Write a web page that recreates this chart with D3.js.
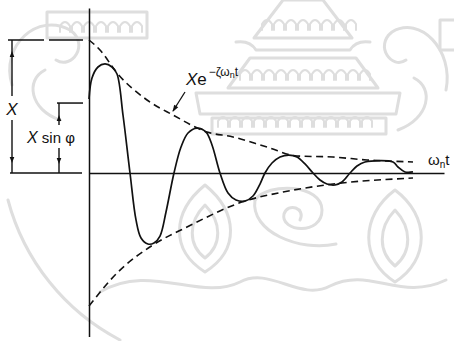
<!DOCTYPE html>
<html>
<head>
<meta charset="utf-8">
<script src="https://cdn.jsdelivr.net/npm/d3@7/dist/d3.min.js"></script>
<style>
  html, body { margin: 0; padding: 0; background: #fff; }
  svg { display: block; }
  text { font-family: "Liberation Sans", "DejaVu Sans", sans-serif; fill: #111; }
</style>
</head>
<body>
<svg id="chart" width="454" height="341"></svg>
<script>
// Damped free vibration: response x(t) and its decay envelopes ±X·e^(−ζωn t)
// time in ωn·t units, displacement as a fraction of X

const responseT = [0, 0.101, 0.304, 0.541, 0.777, 0.947, 1.149, 1.386,
  1.589, 1.758, 1.994, 2.197, 2.400, 2.603, 2.873,
  3.110, 3.347, 3.651, 3.955, 4.158, 4.428,
  4.699, 4.969, 5.273, 5.543, 5.780, 5.949,
  6.186, 6.457, 6.761, 7.031, 7.301, 7.572,
  7.809, 8.045, 8.316, 8.552, 8.823,
  9.059, 9.329, 10.276, 10.445, 10.682, 10.952];
const responseX = [0.556, 0.714, 0.797, 0.820, 0.797, 0.744, 0.436, 0,
  -0.353, -0.489, -0.534, -0.526, -0.474, -0.293, 0,
  0.195, 0.301, 0.338, 0.308, 0.211, 0,
  -0.150, -0.203, -0.211, -0.173, -0.083, 0,
  0.075, 0.120, 0.135, 0.120, 0.068, 0,
  -0.053, -0.083, -0.090, -0.068, 0,
  0.053, 0.083, 0.083, 0.045, 0.008, 0.008];

const upperT = [0, 0.372, 0.947, 1.961, 2.840, 3.989, 4.868, 6.017, 7.031, 8.248, 9.397, 10.952];
const upperX = [1.0, 0.925, 0.752, 0.549, 0.436, 0.308, 0.271, 0.195, 0.128, 0.120, 0.098, 0.083];

const lowerT = [0, 0.947, 2.163, 3.313, 5.273, 6.558, 8.248, 10.952];
const lowerX = [-1.0, -0.752, -0.541, -0.406, -0.211, -0.143, -0.083, -0.038];

const amplitude = 1.0;        // X
const initialOffset = 0.526;  // X sin φ
const tExtent = [0, 12];
const xExtent = [-1.23, 1.24];

const svg = d3.select("#chart");
const ink = "#111";

// faint emblem printed behind the figure
const wm = svg.append("g").attr("fill", "none").attr("stroke", "#dedede")
  .attr("stroke-width", 3).attr("stroke-linecap", "round").attr("stroke-linejoin", "round");
[
  // tiered roof
  "M283,0 L323,0 L352,38 L254,38 Z",
  "M236,42 Q250,40 256,50 L350,50 Q356,40 370,42",
  "M250,58 L356,58 L378,88 L228,88 Z",
  "M196,93 L400,93 L396,114 L200,114 Z",
  "M212,118 L386,118 L386,134 L212,134 Z",
  // swirl
  "M255,200 C268,182 322,184 322,210 C322,236 280,232 284,214 C288,202 306,208 300,220",
  "M255,200 C250,232 300,252 336,244",
  // teardrop ornaments
  "M205,185 C172,212 170,250 205,272 C240,250 238,212 205,185 Z",
  "M205,205 C188,222 188,245 205,258 C222,245 222,222 205,205 Z",
  "M395,190 C360,216 360,260 395,282 C430,260 430,216 395,190 Z",
  "M395,210 C378,228 378,252 395,266 C412,252 412,228 395,210 Z",
  // base wave
  "M100,292 C150,262 200,302 240,282 C270,266 300,302 330,286 C370,266 400,302 446,280",
  // side scrolls
  "M12,85 C0,45 38,12 70,30 C90,44 72,70 56,60",
  "M60,120 C30,110 25,80 45,70",
  "M446,90 C454,50 420,15 392,32 C374,46 392,70 406,60",
  "M398,130 C430,118 434,88 414,78",
  // seal ring
  "M8,200 A222,222 0 0,0 120,340"
].forEach(d => wm.append("path").attr("d", d));
// small arch rows on the roof tiers
[[262, 30, 8], [240, 80, 11], [218, 127, 13], [60, 32, 7]].forEach(([x0, yb, n]) => {
  for (let i = 0; i < n; i++) {
    const cx = x0 + i * 12;
    wm.append("path").attr("stroke-width", 2)
      .attr("d", `M${cx},${yb} L${cx},${yb - 6} Q${cx + 5},${yb - 14} ${cx + 10},${yb - 6} L${cx + 10},${yb}`);
  }
});
wm.append("rect").attr("x", 47).attr("y", 12).attr("width", 100).attr("height", 26);
wm.append("rect").attr("x", 440).attr("y", 20).attr("width", 20).attr("height", 30);

const t = d3.scaleLinear().domain(tExtent).range([89, 444]);
const y = d3.scaleLinear().domain([-1, 1]).range([306, 40]);

// axes: plain lines, no ticks
const yAxisScale = y.copy().domain(xExtent).range(xExtent.map(y));
svg.append("g")
  .attr("transform", `translate(${t(0)},0)`)
  .call(d3.axisLeft(yAxisScale).tickValues([]).tickSizeOuter(0))
  .call(g => g.select(".domain").attr("stroke", ink).attr("stroke-width", 1.5));
svg.append("g")
  .attr("transform", `translate(0,${y(0)})`)
  .call(d3.axisBottom(t).tickValues([]).tickSizeOuter(0))
  .call(g => g.select(".domain").attr("stroke", ink).attr("stroke-width", 1.5));

const zip = (a, b) => a.map((v, i) => [v, b[i]]);
const envLine = d3.line().x(d => t(d[0])).y(d => y(d[1])).curve(d3.curveMonotoneX);
const respLine = d3.line().x(d => t(d[0])).y(d => y(d[1])).curve(d3.curveCatmullRom.alpha(0.5));

// envelopes
[zip(upperT, upperX), zip(lowerT, lowerX)].forEach(pts => {
  svg.append("path").attr("d", envLine(pts))
    .attr("fill", "none").attr("stroke", ink)
    .attr("stroke-width", 1.6).attr("stroke-dasharray", "7,4.5");
});

// response curve
svg.append("path").attr("d", respLine(zip(responseT, responseX)))
  .attr("fill", "none").attr("stroke", ink)
  .attr("stroke-width", 1.7).attr("stroke-linejoin", "round");

// arrowhead helper (filled triangle, tip at x,y, pointing along angle)
function arrow(x, yy, angleDeg, len = 6, half = 2.3) {
  const a = angleDeg * Math.PI / 180;
  const bx = x - len * Math.cos(a), by = yy - len * Math.sin(a);
  const px = -Math.sin(a) * half, py = Math.cos(a) * half;
  svg.append("path")
    .attr("d", `M${x},${yy}L${bx + px},${by + py}L${bx - px},${by - py}Z`)
    .attr("fill", ink);
}
function seg(x1, y1, x2, y2, w = 1.4, dash = null) {
  const l = svg.append("line").attr("x1", x1).attr("y1", y1).attr("x2", x2).attr("y2", y2)
    .attr("stroke", ink).attr("stroke-width", w);
  if (dash) l.attr("stroke-dasharray", dash);
}

// X dimension
const yTop = y(amplitude), yZero = y(0), yOff = y(initialOffset);
seg(8, yTop, 83, yTop, 1.5, "36,5");
seg(10, yZero, 82, yZero, 1.5);
seg(12, yTop, 12, yTop + 56);
seg(12, yTop + 80, 12, yZero);
arrow(12, yTop + 11, -90);
arrow(12, yZero - 10, 90);
svg.append("text").attr("x", 12).attr("y", yTop + 75)
  .attr("text-anchor", "middle").attr("font-size", 17).attr("font-style", "italic").text("X");

// X sin φ dimension
seg(57, yOff, 83, yOff, 1.5);
seg(59, yOff, 59, yOff + 22);
arrow(59, yOff + 12, -90);
seg(59, yZero - 25, 59, yZero);
arrow(59, yZero - 9, 90);
const xs = svg.append("text").attr("x", 27).attr("y", yOff + 40).attr("font-size", 15);
xs.append("tspan").attr("font-style", "italic").attr("font-size", 16).text("X");
xs.append("tspan").text(" sin ");
xs.append("tspan").text("φ");

// envelope label with leader
const env = svg.append("text").attr("x", 186).attr("y", 85).attr("font-size", 17);
env.append("tspan").attr("font-style", "italic").text("X");
env.append("tspan").text("e");
env.append("tspan").attr("font-size", 12).attr("dy", -9).attr("dx", 2).text("−ζω");
env.append("tspan").attr("font-size", 9).attr("dy", 2).text("n");
env.append("tspan").attr("font-size", 12).attr("dy", -2).text("t");
seg(185, 92, 173, 111, 1.3);
arrow(172.5, 112, 122, 7, 2.4);

// time axis label
const wl = svg.append("text").attr("x", 428).attr("y", 165).attr("font-size", 15);
wl.append("tspan").text("ω");
wl.append("tspan").attr("font-size", 10).attr("dy", 3).text("n");
wl.append("tspan").attr("dy", -3).text("t");
</script>
</body>
</html>
